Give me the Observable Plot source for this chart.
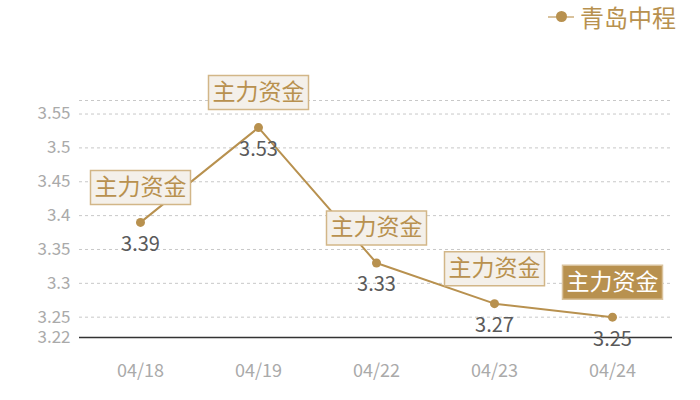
<!DOCTYPE html>
<html><head><meta charset="utf-8">
<script src="https://cdn.jsdelivr.net/npm/d3@7"></script>
<script src="https://cdn.jsdelivr.net/npm/@observablehq/plot@0.6"></script>
<style>
body{margin:0;background:#fff;font-family:"Noto Sans CJK SC","Noto Sans",sans-serif;}
#wrap{position:relative;width:700px;height:400px;}
#legend{position:absolute;top:0px;left:548px;display:flex;align-items:center;color:#b8914f;font-size:24px;line-height:34px;}
#legend .sw{position:relative;width:26px;height:2px;background:#d9c29c;margin-right:6px;}
#legend .sw i{position:absolute;left:8px;top:-5px;width:11px;height:11px;border-radius:50%;background:#b8914f;}
</style></head>
<body><div id="wrap"><div id="legend"><span class="sw"><i></i></span>青岛中程</div><div id="chart"></div></div>
<script>
const dates = ["04/18","04/19","04/22","04/23","04/24"];
const values = [3.39,3.53,3.33,3.27,3.25];
const tags = ["主力资金","主力资金","主力资金","主力资金","主力资金"];
const highlight = [false,false,false,false,true];
const yLabelTicks = [3.22,3.25,3.3,3.35,3.4,3.45,3.5,3.55];
const gridTicks = [3.25,3.3,3.35,3.4,3.45,3.5,3.55,3.57];

const data = dates.map((d,i)=>({date:d,value:values[i],tag:tags[i],hi:highlight[i]}));
const gold = "#b8914f";
const boxSymbol = {draw(ctx){ctx.moveTo(-50,-17);ctx.lineTo(50,-17);ctx.lineTo(50,17);ctx.lineTo(-50,17);ctx.closePath();}};

const chart = Plot.plot({
  width:700,height:400,
  marginLeft:79,marginRight:28,marginTop:100,marginBottom:63,
  style:{fontFamily:'"Noto Sans CJK SC","Noto Sans",sans-serif',background:"transparent"},
  x:{type:"point",domain:dates,padding:0.5,label:null},
  y:{domain:[3.22,3.57],label:null},
  marks:[
    Plot.gridY(gridTicks,{stroke:"#c8c8c8",strokeOpacity:1,strokeDasharray:"3,3"}),
    Plot.axisY(yLabelTicks,{tickSize:0,tickPadding:9,fontSize:17,fill:"#aaaaaa",tickFormat:d=>String(d)}),
    Plot.axisX({tickSize:0,tickPadding:27,fontSize:18,fill:"#aaaaaa"}),
    Plot.ruleY([3.22],{stroke:"#333",strokeWidth:1.3}),
    Plot.line(data,{x:"date",y:"value",stroke:gold,strokeWidth:2}),
    Plot.dot(data,{x:"date",y:"value",symbol:boxSymbol,dy:-35,
      fill:d=>d.hi?"#b8914f":"#f4f0ea",stroke:d=>d.hi?"#d9c29c":"#d2b688",strokeWidth:1.5}),
    Plot.text(data,{x:"date",y:"value",text:"tag",dy:-35,fontSize:23,fill:d=>d.hi?"#ffffff":gold}),
    Plot.dot(data,{x:"date",y:"value",r:4.5,fill:gold,stroke:"none"}),
    Plot.text(data,{x:"date",y:"value",text:d=>String(d.value),dy:22,fontSize:20,fill:"#5a5a5a"})
  ]
});
document.getElementById("chart").appendChild(chart);
</script></body></html>
